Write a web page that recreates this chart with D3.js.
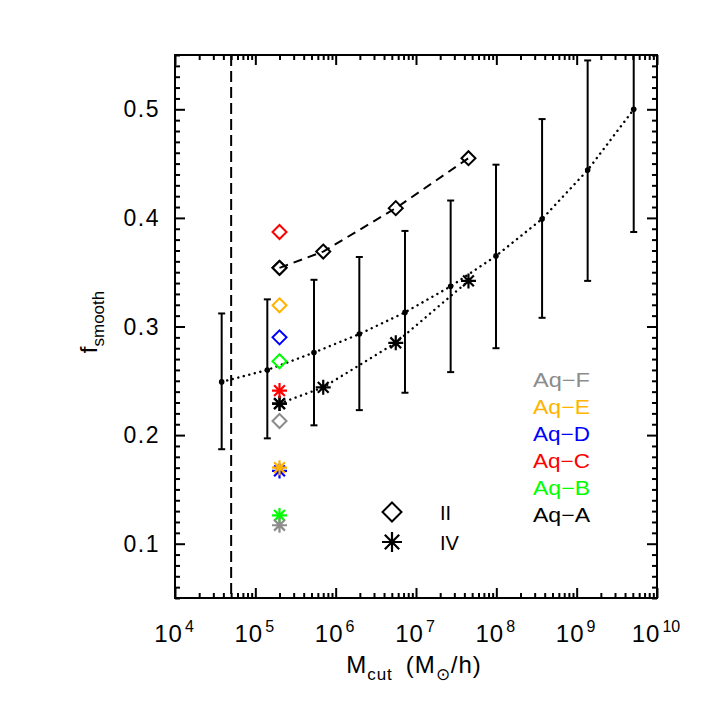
<!DOCTYPE html>
<html>
<head>
<meta charset="utf-8">
<script src="https://cdn.jsdelivr.net/npm/d3@7"></script>
<style>
html,body{margin:0;padding:0;background:#fff;}
svg{display:block;}
text{font-family:"Liberation Sans",Arial,sans-serif;}
</style>
</head>
<body>
<svg id="chart" width="709" height="709"></svg>
<script>
// ---- data ----
const barMass = [3.81e4, 1.41e5, 5.37e5, 1.97e6, 7.29e6, 2.70e7, 9.9e7, 3.71e8, 1.37e9, 5.13e9];
const barMean = [0.249, 0.260, 0.276, 0.293, 0.313, 0.337, 0.365, 0.399, 0.444, 0.500];
const barLow  = [0.187, 0.197, 0.209, 0.223, 0.239, 0.258, 0.280, 0.308, 0.342, 0.387];
const barHigh = [0.312, 0.325, 0.343, 0.364, 0.388, 0.416, 0.449, 0.491, 0.545, 0.613];

const levelMass = [2.0e5, 7.0e5, 5.6e6, 4.5e7];
const levelII   = [0.354, 0.369, 0.409, 0.455];
const levelIV   = [0.229, 0.244, 0.285, 0.342];

const haloMass  = 2.0e5;
const haloNames = ["Aq\u2212A", "Aq\u2212B", "Aq\u2212C", "Aq\u2212D", "Aq\u2212E", "Aq\u2212F"];
const haloColors = ["#000000", "#00ff00", "#ff0000", "#0000ff", "#ffb400", "#8c8c8c"];
const haloII = [0.354, 0.268, 0.387, 0.290, 0.3195, 0.213];
const haloIV = [0.229, 0.126, 0.241, 0.167, 0.170, 0.117];

const cutMass = 5e4;

const xMajor = [1e4, 1e5, 1e6, 1e7, 1e8, 1e9, 1e10];
const xExp   = ["4", "5", "6", "7", "8", "9", "10"];
const yMajor = [0.1, 0.2, 0.3, 0.4, 0.5];
const yLabels = ["0.1", "0.2", "0.3", "0.4", "0.5"];

// ---- layout ----
const L = 175, R = 657, T = 55, B = 598;
const svg = d3.select("#chart");
const x = d3.scaleLog().domain([1e4, 1e10]).range([L, R]);
const y = d3.scaleLinear().domain([0.05, 0.55]).range([B, T]);

svg.append("defs").append("clipPath").attr("id", "clip")
  .append("rect").attr("x", L).attr("y", T).attr("width", R - L).attr("height", B - T);

// minor tick values
const xMinor = [];
for (let e = 4; e < 10; e++) for (let k = 2; k <= 9; k++) xMinor.push(k * Math.pow(10, e));
const yMinor = d3.range(5, 56).map(i => i / 100).filter(v => Math.abs(v * 10 - Math.round(v * 10)) > 1e-6);

function styleAxis(g) {
  g.select(".domain").remove();
  g.selectAll("line").attr("stroke", "#000").attr("stroke-width", 2);
  g.selectAll("text").remove();
}
// bottom / top
svg.append("g").attr("transform", `translate(0,${B})`).call(d3.axisBottom(x).tickValues(xMajor).tickSize(-10).tickFormat("")).call(styleAxis);
svg.append("g").attr("transform", `translate(0,${B})`).call(d3.axisBottom(x).tickValues(xMinor).tickSize(-5).tickFormat("")).call(styleAxis);
svg.append("g").attr("transform", `translate(0,${T})`).call(d3.axisTop(x).tickValues(xMajor).tickSize(-10).tickFormat("")).call(styleAxis);
svg.append("g").attr("transform", `translate(0,${T})`).call(d3.axisTop(x).tickValues(xMinor).tickSize(-5).tickFormat("")).call(styleAxis);
// left / right
svg.append("g").attr("transform", `translate(${L},0)`).call(d3.axisLeft(y).tickValues(yMajor).tickSize(-10).tickFormat("")).call(styleAxis);
svg.append("g").attr("transform", `translate(${L},0)`).call(d3.axisLeft(y).tickValues(yMinor).tickSize(-5).tickFormat("")).call(styleAxis);
svg.append("g").attr("transform", `translate(${R},0)`).call(d3.axisRight(y).tickValues(yMajor).tickSize(-10).tickFormat("")).call(styleAxis);
svg.append("g").attr("transform", `translate(${R},0)`).call(d3.axisRight(y).tickValues(yMinor).tickSize(-5).tickFormat("")).call(styleAxis);

// frame
svg.append("rect").attr("x", L).attr("y", T).attr("width", R - L).attr("height", B - T)
  .attr("fill", "none").attr("stroke", "#000").attr("stroke-width", 2);

// tick labels
const xl = svg.append("g").attr("font-size", 24).attr("fill", "#000");
xMajor.forEach((v, i) => {
  const t = xl.append("text").attr("x", x(v) - 1).attr("y", 642).attr("text-anchor", "middle");
  t.append("tspan").text("10").attr("letter-spacing", 1);
  t.append("tspan").text(xExp[i]).attr("font-size", 16).attr("dy", -10).attr("dx", 2);
});
const yl = svg.append("g").attr("font-size", 23).attr("fill", "#000");
yMajor.forEach((v, i) => {
  yl.append("text").attr("x", 160).attr("y", y(v) + 8).attr("text-anchor", "end")
    .attr("letter-spacing", 1.5).text(yLabels[i]);
});

// axis titles
const xt = svg.append("text").attr("x", 414).attr("y", 673).attr("text-anchor", "middle")
  .attr("font-size", 24).attr("letter-spacing", 1);
xt.append("tspan").text("M");
xt.append("tspan").text("cut").attr("font-size", 17).attr("dy", 7);
xt.append("tspan").text("\u2002(M").attr("dy", -7);
xt.append("tspan").text("\u2299").attr("font-size", 17).attr("dy", 7);
xt.append("tspan").text("/h)").attr("dy", -7);

const yt = svg.append("text").attr("transform", "translate(97,322) rotate(-90)")
  .attr("text-anchor", "middle").attr("font-size", 24);
yt.append("tspan").text("f");
yt.append("tspan").text("smooth").attr("font-size", 17).attr("dy", 7);

const plot = svg.append("g").attr("clip-path", "url(#clip)");

// vertical dashed cut line
plot.append("line").attr("x1", x(cutMass)).attr("x2", x(cutMass)).attr("y1", T).attr("y2", B)
  .attr("stroke", "#000").attr("stroke-width", 2).attr("stroke-dasharray", "11,5");

// dotted line through mean points
const barData = barMass.map((m, i) => ({m, mean: barMean[i], lo: barLow[i], hi: barHigh[i]}));
const line = d3.line().x(d => x(d[0])).y(d => y(d[1]));
plot.append("path").attr("d", line(barData.map(d => [d.m, d.mean])))
  .attr("fill", "none").attr("stroke", "#000").attr("stroke-width", 2.4)
  .attr("stroke-dasharray", "0.1,5.6").attr("stroke-linecap", "round");
// error bars
const eb = plot.selectAll("g.eb").data(barData).enter().append("g");
eb.append("line").attr("x1", d => x(d.m)).attr("x2", d => x(d.m)).attr("y1", d => y(d.lo)).attr("y2", d => y(d.hi))
  .attr("stroke", "#000").attr("stroke-width", 2);
eb.append("line").attr("x1", d => x(d.m) - 3.5).attr("x2", d => x(d.m) + 3.5).attr("y1", d => y(d.lo)).attr("y2", d => y(d.lo))
  .attr("stroke", "#000").attr("stroke-width", 2);
eb.append("line").attr("x1", d => x(d.m) - 3.5).attr("x2", d => x(d.m) + 3.5).attr("y1", d => y(d.hi)).attr("y2", d => y(d.hi))
  .attr("stroke", "#000").attr("stroke-width", 2);
eb.append("circle").attr("cx", d => x(d.m)).attr("cy", d => y(d.mean)).attr("r", 2.8).attr("fill", "#000");

// level lines
plot.append("path").attr("d", line(levelMass.map((m, i) => [m, levelII[i]])))
  .attr("fill", "none").attr("stroke", "#000").attr("stroke-width", 2).attr("stroke-dasharray", "9,6");
plot.append("path").attr("d", line(levelMass.map((m, i) => [m, levelIV[i]])))
  .attr("fill", "none").attr("stroke", "#000").attr("stroke-width", 2.4)
  .attr("stroke-dasharray", "0.1,5.6").attr("stroke-linecap", "round");

function diamond(g, cx, cy, r, color) {
  g.append("path").attr("d", `M${cx},${cy - r}L${cx + r},${cy}L${cx},${cy + r}L${cx - r},${cy}Z`)
    .attr("fill", "none").attr("stroke", color).attr("stroke-width", 2);
}
function asterisk(g, cx, cy, r, color) {
  const d = r * 0.72;
  g.append("path").attr("d",
    `M${cx},${cy - r}L${cx},${cy + r}M${cx - r},${cy}L${cx + r},${cy}` +
    `M${cx - d},${cy - d}L${cx + d},${cy + d}M${cx - d},${cy + d}L${cx + d},${cy - d}`)
    .attr("fill", "none").attr("stroke", color).attr("stroke-width", 2.2);
}

levelMass.forEach((m, i) => {
  diamond(plot, x(m), y(levelII[i]), 7, "#000");
  asterisk(plot, x(m), y(levelIV[i]), 7.5, "#000");
});
haloNames.forEach((n, i) => {
  diamond(plot, x(haloMass), y(haloII[i]), 7, haloColors[i]);
  asterisk(plot, x(haloMass), y(haloIV[i]), 7.5, haloColors[i]);
});

// legend: levels
diamond(svg, 392, 512, 9.5, "#000");
asterisk(svg, 392, 542, 10, "#000");
svg.append("text").attr("x", 440).attr("y", 520).attr("font-size", 20).text("II");
svg.append("text").attr("x", 440).attr("y", 550).attr("font-size", 20).text("IV");

// legend: haloes (top: F ... bottom: A)
const order = [5, 4, 3, 2, 1, 0];
order.forEach((idx, k) => {
  svg.append("text").attr("x", 533).attr("y", 387 + k * 27).attr("font-size", 20)
    .attr("fill", haloColors[idx]).attr("textLength", 57).attr("lengthAdjust", "spacingAndGlyphs")
    .text(haloNames[idx]);
});
</script>
</body>
</html>
